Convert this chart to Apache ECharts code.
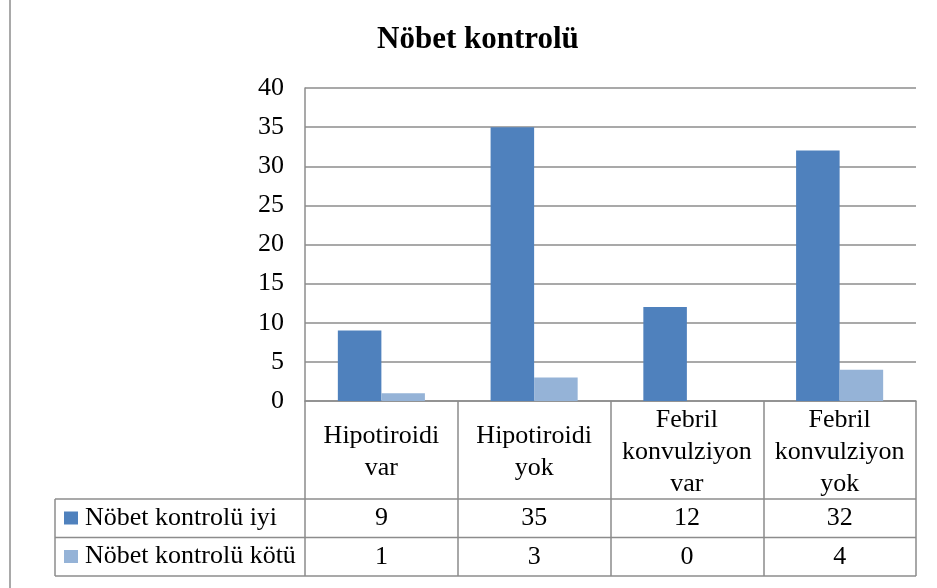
<!DOCTYPE html>
<html lang="tr">

<head>
    <meta charset="UTF-8">
    <title>Nöbet kontrolü</title>
    <style>
        html, body {
            margin: 0;
            padding: 0;
            background: #fff;
        }
        div#container {
            width: 937px;
            height: 588px;
        }
    </style>
</head>

<body>
    <div id="container"></div>

    <script src="https://cdn.jsdelivr.net/npm/echarts@6/dist/echarts.min.js"></script>
    <script>
        var categories = ['Hipotiroidi\nvar', 'Hipotiroidi\nyok', 'Febril\nkonvulziyon\nvar', 'Febril\nkonvulziyon\nyok'];
        var seriesNames = ['Nöbet kontrolü iyi', 'Nöbet kontrolü kötü'];
        var iyiValues = [9, 35, 12, 32];
        var kotuValues = [1, 3, 0, 4];
        var yTicks = { min: 0, max: 40, interval: 5 };

        var FONT = '"Liberation Serif", "Times New Roman", serif';
        var GRAY = '#8c8c8c';
        var colors = ['#4F81BD', '#95B3D7'];

        // plot area and data table geometry (pixels)
        var plotLeft = 305, plotRight = 916, plotTop = 88, plotBottom = 401;
        var headerH = 98, rowH = 38.5;
        var tableBottom = plotBottom + headerH + rowH * 2;
        var legendLeft = 55;

        var ele = document.getElementById('container');
        var chart = echarts.init(ele, null, { renderer: 'canvas' });

        function valueRowAxis(values, offset) {
            return {
                type: 'category',
                gridIndex: 0,
                position: 'bottom',
                offset: offset,
                data: categories,
                axisLine: { show: false },
                axisTick: { show: false },
                axisLabel: {
                    interval: 0,
                    margin: 0,
                    verticalAlign: 'middle',
                    fontFamily: FONT,
                    fontSize: 26,
                    color: '#000',
                    formatter: function(v, i) {
                        return String(values[i]);
                    }
                }
            };
        }

        function hLine(y) {
            return {
                type: 'line',
                shape: { x1: legendLeft, y1: y, x2: plotRight, y2: y },
                style: { stroke: GRAY, lineWidth: 1.5 }
            };
        }

        var options = {
            color: colors,
            animation: false,
            title: {
                text: 'Nöbet kontrolü',
                left: 372,
                top: 19,
                textStyle: {
                    fontFamily: FONT,
                    fontSize: 31,
                    fontWeight: 'bold',
                    color: '#000'
                }
            },
            legend: {
                orient: 'vertical',
                left: 64,
                top: plotBottom + headerH + 6,
                padding: 0,
                itemWidth: 14,
                itemHeight: 13,
                itemGap: 12.5,
                icon: 'rect',
                selectedMode: false,
                data: seriesNames,
                textStyle: {
                    fontFamily: FONT,
                    fontSize: 26,
                    lineHeight: 26,
                    color: '#000',
                    padding: [0, 0, 0, 2]
                }
            },
            grid: {
                left: plotLeft,
                right: 937 - plotRight,
                top: plotTop,
                bottom: 588 - plotBottom
            },
            xAxis: [
                {
                    type: 'category',
                    data: categories,
                    axisLine: { show: true, lineStyle: { color: GRAY, width: 1.5 } },
                    axisTick: {
                        show: true,
                        length: tableBottom - plotBottom,
                        lineStyle: { color: GRAY, width: 1.5 }
                    },
                    axisLabel: {
                        interval: 0,
                        margin: headerH / 2 + 2,
                        verticalAlign: 'middle',
                        lineHeight: 32,
                        fontFamily: FONT,
                        fontSize: 26,
                        color: '#000'
                    }
                },
                valueRowAxis(iyiValues, headerH + rowH / 2),
                valueRowAxis(kotuValues, headerH + rowH * 1.5)
            ],
            yAxis: {
                type: 'value',
                min: yTicks.min,
                max: yTicks.max,
                interval: yTicks.interval,
                axisLine: { show: true, lineStyle: { color: GRAY, width: 1.5 } },
                axisTick: { show: false },
                splitLine: { lineStyle: { color: GRAY, width: 1.5 } },
                axisLabel: {
                    margin: 21,
                    fontFamily: FONT,
                    fontSize: 26,
                    color: '#000'
                }
            },
            series: [
                {
                    name: seriesNames[0],
                    type: 'bar',
                    data: iyiValues,
                    barGap: '0%',
                    barCategoryGap: '43%'
                },
                {
                    name: seriesNames[1],
                    type: 'bar',
                    data: kotuValues,
                    barGap: '0%',
                    barCategoryGap: '43%'
                }
            ],
            graphic: [
                // outer frame edge on the left
                {
                    type: 'line',
                    shape: { x1: 10, y1: 0, x2: 10, y2: 588 },
                    style: { stroke: GRAY, lineWidth: 1.5 }
                },
                // legend column of the data table
                hLine(plotBottom + headerH),
                hLine(plotBottom + headerH + rowH),
                hLine(tableBottom),
                {
                    type: 'line',
                    shape: { x1: legendLeft, y1: plotBottom + headerH, x2: legendLeft, y2: tableBottom },
                    style: { stroke: GRAY, lineWidth: 1.5 }
                }
            ]
        };
        chart.setOption(options);
    </script>
</body>

</html>
